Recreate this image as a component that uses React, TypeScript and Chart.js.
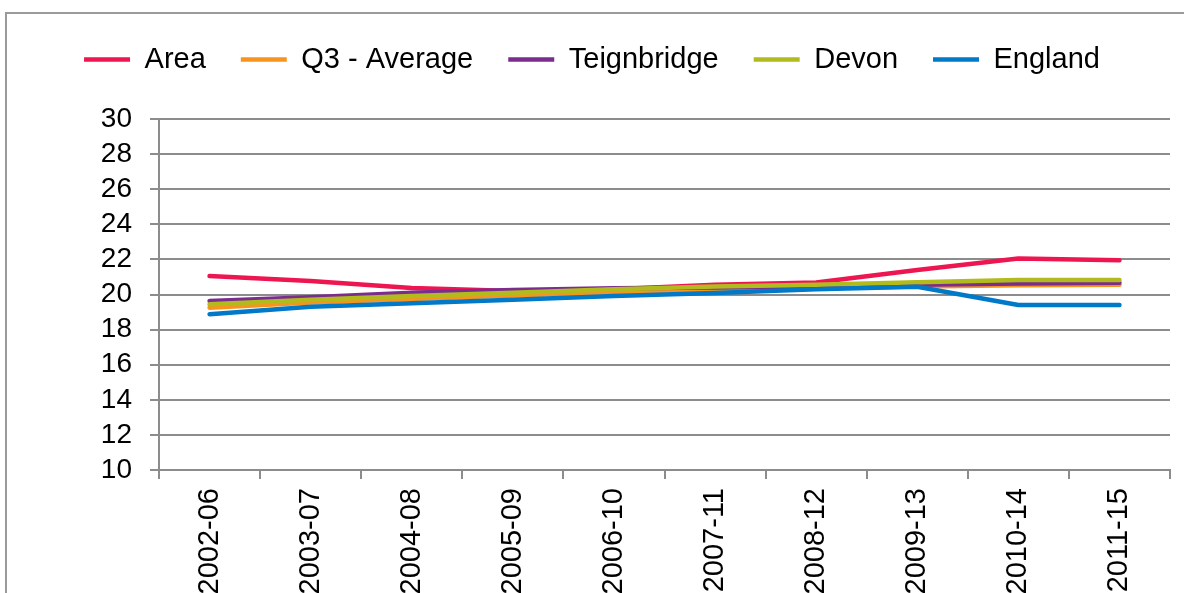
import React, { useEffect, useRef } from "react";
import { Chart, registerables } from "chart.js";

Chart.register(...registerables);

const categories = ["2002-06", "2003-07", "2004-08", "2005-09", "2006-10", "2007-11", "2008-12", "2009-13", "2010-14", "2011-15"];
const areaValues = [21.05, 20.77, 20.37, 20.2, 20.3, 20.55, 20.68, 21.4, 22.05, 21.95];
const q3Values = [19.25, 19.55, 19.75, 19.95, 20.12, 20.25, 20.35, 20.45, 20.52, 20.56];
const teignbridgeValues = [19.63, 19.85, 20.1, 20.25, 20.35, 20.4, 20.47, 20.55, 20.62, 20.67];
const devonValues = [19.44, 19.7, 19.92, 20.1, 20.3, 20.45, 20.55, 20.7, 20.82, 20.83];
const englandValues = [18.88, 19.3, 19.5, 19.7, 19.92, 20.08, 20.3, 20.44, 19.4, 19.4];
const yMin = 10;
const yMax = 30;
const yStep = 2;

const FONT = "'Liberation Sans', Arial, sans-serif";
const GRID = "#8c8c8c";
const CANVAS_W = 1184;
const CANVAS_H = 650;

export default function App() {
  const ref = useRef<HTMLCanvasElement | null>(null);

  useEffect(() => {
    if (!ref.current) return;
    const mk = (label: string, data: number[], color: string, order: number) => ({
      label,
      data,
      borderColor: color,
      backgroundColor: color,
      borderWidth: 4.5,
      borderCapStyle: "round" as const,
      borderJoinStyle: "round" as const,
      pointRadius: 0,
      pointHoverRadius: 0,
      pointStyle: "line" as const,
      tension: 0,
      fill: false,
      order,
    });
    const chart = new Chart(ref.current, {
      type: "line",
      data: {
        labels: categories,
        datasets: [
          mk("Area", areaValues, "#ED1651", 4),
          mk("Q3 - Average", q3Values, "#F7941D", 3),
          mk("Teignbridge", teignbridgeValues, "#7B2D8E", 2),
          mk("Devon", devonValues, "#B2BB1E", 1),
          mk("England", englandValues, "#0079C8", 0),
        ],
      },
      options: {
        animation: false,
        responsive: false,
        devicePixelRatio: 1,
        layout: { padding: { top: 10, left: 14, right: 14, bottom: 0 } },
        plugins: {
          tooltip: { enabled: false },
          legend: {
            position: "top",
            labels: {
              usePointStyle: true,
              pointStyleWidth: 46,
              padding: 35,
              color: "#000",
              font: { family: FONT, size: 29 },
              sort: (a: any, b: any) => a.datasetIndex - b.datasetIndex,
            },
          },
          title: {
            display: true,
            text: "",
            position: "top",
            weight: 500,
            font: { size: 10, lineHeight: 1 },
            padding: { top: 0, bottom: 25 },
          },
        },
        scales: {
          x: {
            type: "category",
            offset: true,
            afterFit: (scale: any) => {
              scale.height = CANVAS_H - 470;
            },
            grid: {
              offset: true,
              drawOnChartArea: false,
              drawTicks: true,
              tickLength: 9,
              color: GRID,
              lineWidth: 2,
            },
            border: { display: true, color: GRID, width: 2 },
            ticks: {
              autoSkip: false,
              minRotation: 90,
              maxRotation: 90,
              padding: 9,
              color: "#000",
              font: { family: FONT, size: 29 },
            },
          },
          y: {
            min: yMin,
            max: yMax,
            afterFit: (scale: any) => {
              scale.width = 159 - 14;
            },
            grid: {
              drawTicks: true,
              tickLength: 9,
              color: GRID,
              lineWidth: 2,
            },
            border: { display: true, color: GRID, width: 2 },
            ticks: {
              autoSkip: false,
              stepSize: yStep,
              padding: 18,
              color: "#000",
              font: { family: FONT, size: 28 },
            },
          },
        },
      },
    } as any);
    return () => chart.destroy();
  }, []);

  return (
    <div
      style={{
        position: "fixed",
        left: 0,
        top: 0,
        width: 1184,
        height: 593,
        overflow: "hidden",
        background: "#fff",
      }}
    >
      <div
        style={{
          position: "absolute",
          left: 5,
          top: 12,
          width: 2000,
          height: 2000,
          borderTop: "2px solid #9a9a9a",
          borderLeft: "2px solid #9a9a9a",
        }}
      />
      <canvas
        ref={ref}
        width={CANVAS_W}
        height={CANVAS_H}
        style={{ position: "absolute", left: 0, top: 0, width: CANVAS_W, height: CANVAS_H }}
      />
    </div>
  );
}
